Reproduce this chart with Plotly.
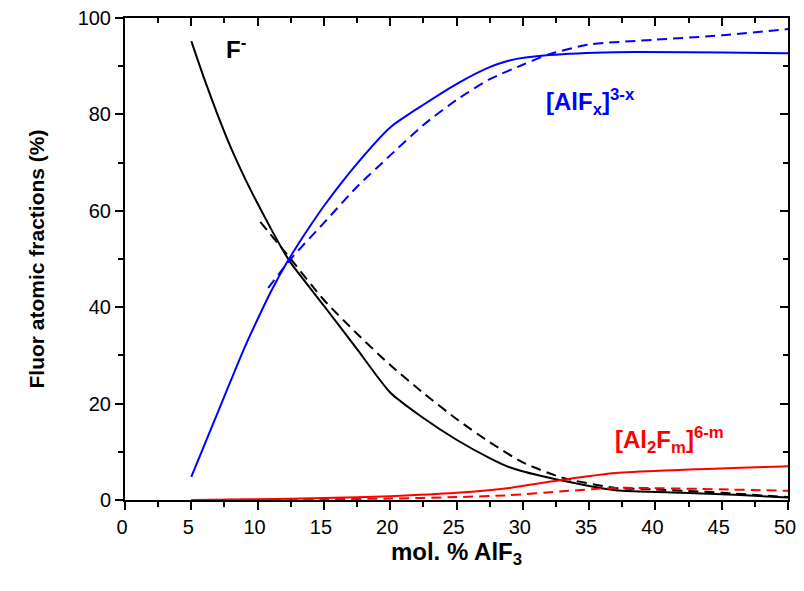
import plotly.graph_objects as go

# F- (free fluoride)
f_x_solid = [5, 6, 7, 8, 9, 10, 11, 12, 12.5, 15, 17.5, 20, 22.5, 25, 27.5, 29, 32, 37, 42, 46, 50]
f_y_solid = [95.2, 87.2, 79.8, 73.0, 67.0, 61.5, 56.3, 51.4, 49.2, 40.3, 31.3, 22.3, 17, 12.5, 8.7, 6.8, 4.6, 2.0, 1.5, 1.1, 0.5]
f_x_dash = [10.2, 12.5, 15, 17.5, 20, 22.5, 25, 27.5, 30, 33, 37, 40, 45, 50]
f_y_dash = [57.7, 50, 41.5, 34.5, 28, 22.2, 16.8, 12.0, 7.8, 4.6, 2.5, 2.2, 1.5, 0.6]

# [AlFx]3-x
a_x_solid = [5, 6, 7, 8, 9, 10, 11, 12, 13, 14, 15, 17.5, 20, 22.5, 25, 27.5, 29, 32, 37, 50]
a_y_solid = [4.8, 11.5, 18.2, 24.9, 31.5, 37.5, 43.2, 48.3, 52.8, 57, 61, 69.8, 77.3, 82, 86.3, 89.8, 91.2, 92.3, 92.9, 92.7]
a_x_dash = [10.8, 12.5, 15, 17.5, 20, 22.5, 25, 27.5, 30, 32, 35, 40, 45, 50]
a_y_dash = [44, 50, 57.5, 65, 71.5, 77.8, 83, 87.3, 90.3, 92.5, 94.5, 95.5, 96.4, 97.7]

# [Al2Fm]6-m
d_x_solid = [5, 10, 15, 20, 25, 29, 33, 37, 50]
d_y_solid = [0, 0.15, 0.4, 0.8, 1.5, 2.5, 4.2, 5.6, 7.0]
d_x_dash = [5, 10, 15, 20, 25, 29, 33, 37, 50]
d_y_dash = [0, 0.05, 0.15, 0.3, 0.6, 1.0, 1.8, 2.5, 1.9]

x_ticks = [0, 5, 10, 15, 20, 25, 30, 35, 40, 45, 50]
y_ticks = [0, 20, 40, 60, 80, 100]

FONT = "Liberation Sans, Arial, sans-serif"
DASH = "10px,6px"

fig = go.Figure()

def add(x, y, color, dash=None):
    fig.add_trace(go.Scatter(
        x=x, y=y, mode="lines",
        line=dict(color=color, width=2, dash=dash or "solid", shape="spline", smoothing=0.6),
        showlegend=False, hoverinfo="skip"))

add(f_x_solid, f_y_solid, "black")
add(f_x_dash, f_y_dash, "black", DASH)
add(a_x_solid, a_y_solid, "#0000ff")
add(a_x_dash, a_y_dash, "#0000ff", DASH)
add(d_x_solid, d_y_solid, "#ff0000")
add(d_x_dash, d_y_dash, "#ff0000", DASH)

# helper trace for mirrored axes
fig.add_trace(go.Scatter(x=[0], y=[0], xaxis="x2", yaxis="y2", mode="markers",
                         marker=dict(opacity=0), showlegend=False, hoverinfo="skip"))

axis_common = dict(showgrid=False, zeroline=False, showline=True, linecolor="black",
                   linewidth=2, tickwidth=2, tickcolor="black", automargin=False)

fig.update_layout(
    width=788, height=575,
    margin=dict(l=117, r=8, t=10, b=83, autoexpand=False),
    plot_bgcolor="white", paper_bgcolor="white",
    font=dict(family=FONT, size=19, color="black"),
    xaxis=dict(range=[0, 50], tickvals=x_ticks, ticks="outside", ticklen=8,
               ticklabelshift=-3, ticklabeloverflow="allow",
               minor=dict(dtick=2.5, ticks="outside", ticklen=5, tickwidth=2, tickcolor="black"),
               title=dict(text="<b>mol. % AlF<sub>3</sub></b>", font=dict(size=24), standoff=3),
               tickfont=dict(size=20),
               **axis_common),
    yaxis=dict(range=[0, 100], tickvals=y_ticks, ticks="outside", ticklen=8,
               ticklabeloverflow="allow",
               minor=dict(dtick=10, ticks="outside", ticklen=5, tickwidth=2, tickcolor="black"),
               title=dict(text="<b>Fluor atomic fractions (%)</b>", font=dict(size=21), standoff=27),
               tickfont=dict(size=20),
               **axis_common),
    xaxis2=dict(range=[0, 50], overlaying="x", side="top", anchor="y2", tickvals=x_ticks,
                ticks="inside", ticklen=8, showticklabels=False,
                minor=dict(dtick=2.5, ticks="inside", ticklen=5, tickwidth=2, tickcolor="black"),
                **axis_common),
    yaxis2=dict(range=[0, 100], overlaying="y", side="right", anchor="x2", tickvals=y_ticks,
                ticks="inside", ticklen=8, showticklabels=False,
                minor=dict(dtick=10, ticks="inside", ticklen=5, tickwidth=2, tickcolor="black"),
                **axis_common),
)

fig.add_annotation(x=8.4, y=93.8, text="<b>F<sup>-</sup></b>", showarrow=False,
                   font=dict(size=24, color="black", family=FONT))
fig.add_annotation(x=35.1, y=82.6, text="<b>[AlF<sub>x</sub>]<sup>3-x</sup></b>", showarrow=False,
                   font=dict(size=24, color="#0000ff", family=FONT))
fig.add_annotation(x=41.1, y=12.4, text="<b>[Al<sub>2</sub>F<sub>m</sub>]<sup>6-m</sup></b>", showarrow=False,
                   font=dict(size=24, color="#ff0000", family=FONT))

fig.write_html("out.html")
